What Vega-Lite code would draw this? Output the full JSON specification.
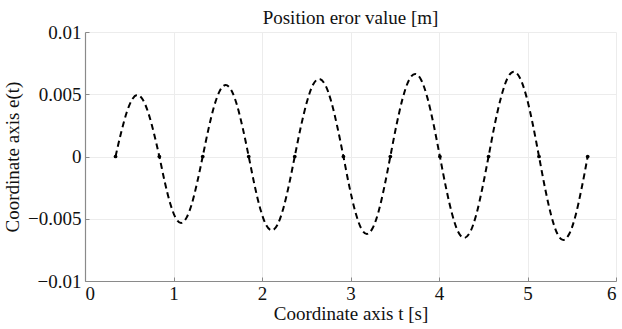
{
  "$schema": "https://vega.github.io/schema/vega-lite/v6.json",
  "autosize": "none",
  "width": 531,
  "height": 249,
  "padding": {"left": 85, "top": 32, "right": 6, "bottom": 48},
  "background": "white",
  "config": {
    "view": {"stroke": null},
    "font": "Liberation Serif"
  },
  "title": {
    "text": "Position eror value [m]",
    "font": "Liberation Serif",
    "fontSize": 19,
    "fontWeight": "normal",
    "color": "#111",
    "offset": 0,
    "dy": 5,
    "frame": "group",
    "anchor": "middle"
  },
  "datasets": {
    "curve": [
      {"t": 0.345, "e": 0}, {"t": 0.407, "e": 0.00189}, {"t": 0.469, "e": 0.00349}, {"t": 0.531, "e": 0.00456}, {"t": 0.593, "e": 0.00494}, {"t": 0.654, "e": 0.00456}, {"t": 0.716, "e": 0.00349}, {"t": 0.778, "e": 0.00189},
      {"t": 0.84, "e": 0}, {"t": 0.901, "e": -0.00204}, {"t": 0.963, "e": -0.00378}, {"t": 1.024, "e": -0.00493}, {"t": 1.085, "e": -0.00534}, {"t": 1.146, "e": -0.00493}, {"t": 1.208, "e": -0.00378}, {"t": 1.269, "e": -0.00204},
      {"t": 1.33, "e": 0}, {"t": 1.395, "e": 0.0022}, {"t": 1.46, "e": 0.00406}, {"t": 1.525, "e": 0.0053}, {"t": 1.59, "e": 0.00574}, {"t": 1.655, "e": 0.0053}, {"t": 1.72, "e": 0.00406}, {"t": 1.785, "e": 0.0022},
      {"t": 1.85, "e": 0}, {"t": 1.915, "e": -0.00227}, {"t": 1.98, "e": -0.00419}, {"t": 2.045, "e": -0.00548}, {"t": 2.11, "e": -0.00593}, {"t": 2.175, "e": -0.00548}, {"t": 2.24, "e": -0.00419}, {"t": 2.305, "e": -0.00227},
      {"t": 2.37, "e": 0}, {"t": 2.439, "e": 0.00239}, {"t": 2.508, "e": 0.0044}, {"t": 2.576, "e": 0.00576}, {"t": 2.645, "e": 0.00623}, {"t": 2.714, "e": 0.00576}, {"t": 2.783, "e": 0.0044}, {"t": 2.851, "e": 0.00239},
      {"t": 2.92, "e": 0}, {"t": 2.986, "e": -0.00238}, {"t": 3.053, "e": -0.0044}, {"t": 3.119, "e": -0.00575}, {"t": 3.185, "e": -0.00622}, {"t": 3.251, "e": -0.00575}, {"t": 3.318, "e": -0.0044}, {"t": 3.384, "e": -0.00238},
      {"t": 3.45, "e": 0}, {"t": 3.52, "e": 0.00254}, {"t": 3.59, "e": 0.00469}, {"t": 3.66, "e": 0.00613}, {"t": 3.73, "e": 0.00663}, {"t": 3.8, "e": 0.00613}, {"t": 3.87, "e": 0.00469}, {"t": 3.94, "e": 0.00254},
      {"t": 4.01, "e": 0}, {"t": 4.079, "e": -0.0025}, {"t": 4.148, "e": -0.00462}, {"t": 4.216, "e": -0.00604}, {"t": 4.285, "e": -0.00654}, {"t": 4.354, "e": -0.00604}, {"t": 4.423, "e": -0.00462}, {"t": 4.491, "e": -0.0025},
      {"t": 4.56, "e": 0}, {"t": 4.631, "e": 0.00261}, {"t": 4.703, "e": 0.00481}, {"t": 4.774, "e": 0.00629}, {"t": 4.845, "e": 0.00681}, {"t": 4.916, "e": 0.00629}, {"t": 4.988, "e": 0.00481}, {"t": 5.059, "e": 0.00261},
      {"t": 5.13, "e": 0}, {"t": 5.199, "e": -0.00257}, {"t": 5.268, "e": -0.00474}, {"t": 5.336, "e": -0.00619}, {"t": 5.405, "e": -0.0067}, {"t": 5.474, "e": -0.00619}, {"t": 5.543, "e": -0.00474}, {"t": 5.611, "e": -0.00257},
      {"t": 5.68, "e": 0}
    ],
    "zeros": [
      {"t": 0.345, "e": 0}, {"t": 0.84, "e": 0}, {"t": 1.33, "e": 0}, {"t": 1.85, "e": 0}, {"t": 2.37, "e": 0}, {"t": 2.92, "e": 0},
      {"t": 3.45, "e": 0}, {"t": 4.01, "e": 0}, {"t": 4.56, "e": 0}, {"t": 5.13, "e": 0}, {"t": 5.68, "e": 0}
    ]
  },
  "encoding": {
    "x": {
      "field": "t", "type": "quantitative",
      "scale": {"domain": [0, 6], "nice": false, "zero": false},
      "axis": {
        "title": "Coordinate axis t [s]",
        "values": [0, 1, 2, 3, 4, 5, 6],
        "format": "d",
        "grid": true, "gridColor": "#ececec", "gridWidth": 1,
        "domainColor": "#8a8a8a", "domainWidth": 1.2,
        "tickColor": "#8a8a8a", "tickSize": -4, "tickWidth": 1,
        "labelFont": "Liberation Serif", "labelFontSize": 19, "labelColor": "#111", "labelPadding": 7,
        "titleFont": "Liberation Serif", "titleFontSize": 19, "titleFontWeight": "normal", "titleColor": "#111", "titlePadding": 1
      }
    },
    "y": {
      "field": "e", "type": "quantitative",
      "scale": {"domain": [-0.01, 0.01], "nice": false, "zero": false},
      "axis": {
        "title": "Coordinate axis e(t)",
        "values": [-0.01, -0.005, 0, 0.005, 0.01],
        "format": "~g",
        "grid": true, "gridColor": "#ececec", "gridWidth": 1,
        "domainColor": "#8a8a8a", "domainWidth": 1.2,
        "tickColor": "#8a8a8a", "tickSize": -4, "tickWidth": 1,
        "labelFont": "Liberation Serif", "labelFontSize": 19, "labelColor": "#111", "labelPadding": 8,
        "titleFont": "Liberation Serif", "titleFontSize": 19, "titleFontWeight": "normal", "titleColor": "#111", "titlePadding": 5
      }
    }
  },
  "layer": [
    {
      "data": {"name": "curve"},
      "mark": {"type": "line", "color": "#000", "strokeWidth": 2, "strokeDash": [6, 4], "interpolate": "monotone"}
    },
    {
      "data": {"name": "zeros"},
      "mark": {"type": "point", "filled": true, "color": "#000", "size": 14, "opacity": 1}
    }
  ]
}
